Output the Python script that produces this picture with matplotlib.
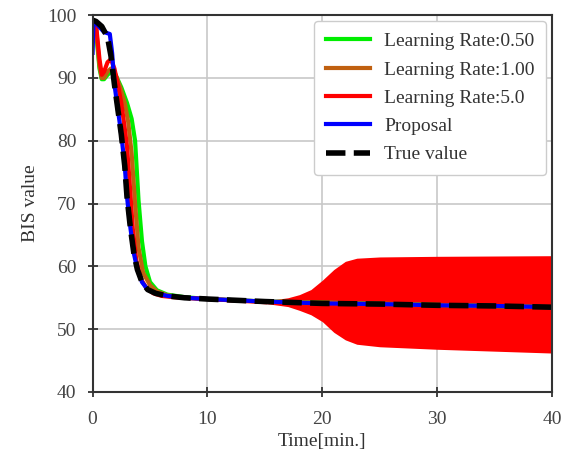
import matplotlib.pyplot as plt

# ---------- data ----------
t_green = [0, 0.3, 0.6, 0.8, 1.0, 1.3, 1.6, 2.0, 2.5, 3.0, 3.4, 3.7, 4.0, 4.3, 4.6, 5.0, 5.6, 6.5, 8, 10, 15, 40]
bis_green = [99, 97.5, 91.5, 89.8, 89.8, 90.5, 91, 90.5, 88.5, 86, 83.5, 80, 70.5, 64, 60, 57.5, 56.2, 55.5, 55.1, 54.8, 54.4, 53.5]

t_orange = [0, 0.3, 0.6, 0.8, 1.0, 1.3, 1.6, 2.0, 2.4, 2.8, 3.1, 3.4, 3.7, 4.0, 4.4, 5.0, 5.6, 6.5, 8, 10, 15, 40]
bis_orange = [99, 98, 92, 90, 90, 91, 91.5, 90.5, 88.5, 86, 83, 78, 70, 63, 59, 57, 56, 55.4, 55.0, 54.8, 54.4, 53.5]

t_red = [0, 0.3, 0.6, 0.8, 1.0, 1.3, 1.6, 1.9, 2.2, 2.5, 2.8, 3.0, 3.2, 3.5, 3.8, 4.2, 4.7, 5.3, 6, 7, 8, 10, 15]
bis_red = [99, 98.5, 93, 90.5, 91, 92.5, 93, 91.5, 89, 86, 82, 79, 74, 66, 61, 58, 56.5, 55.7, 55.3, 55.1, 55.0, 54.8, 54.3]

# oscillation envelope of the lr=5.0 run
t_band = [15, 17, 18, 19, 20, 21, 22, 23, 25, 30, 40]
band_hi = [54.5, 55.0, 55.5, 56.3, 57.8, 59.5, 60.8, 61.3, 61.5, 61.6, 61.7]
band_lo = [54.1, 53.6, 53.0, 52.3, 51.2, 49.5, 48.3, 47.6, 47.2, 46.8, 46.2]

t_prop = [0, 0.08, 0.4, 1.0, 1.5, 1.7, 1.9, 2.2, 2.5, 2.8, 3.0, 3.3, 3.6, 3.9, 4.3, 4.8, 5.5, 6.5, 8, 10, 15, 20, 25, 30, 35, 40]
bis_prop = [94, 98.8, 98.5, 97.3, 97, 94, 89, 85, 81, 76, 71, 66, 62, 59.5, 57.5, 56.3, 55.7, 55.3, 55.0, 54.8, 54.4, 54.1, 54.0, 53.8, 53.7, 53.5]

t_true = [0, 0.3, 0.8, 1.3, 1.6, 1.9, 2.2, 2.5, 2.8, 3.0, 3.3, 3.6, 3.9, 4.3, 4.8, 5.5, 6.5, 8, 10, 15, 20, 25, 30, 35, 40]
bis_true = [99.2, 99, 98.2, 96.5, 93.5, 89, 85, 81, 76, 71, 66, 62, 59.5, 57.5, 56.3, 55.7, 55.3, 55.0, 54.8, 54.4, 54.1, 54.0, 53.8, 53.7, 53.5]

plt.rcParams['font.family'] = ['Liberation Serif', 'DejaVu Serif']
plt.rcParams['font.size'] = 14

fig = plt.figure(figsize=(5.68, 4.59), dpi=100)
ax = fig.add_axes([0.163, 0.146, 0.809, 0.821])

ax.plot(t_green, bis_green, color='#00ee00', lw=3, label='Learning Rate:0.50')
ax.plot(t_orange, bis_orange, color='#c06010', lw=3, label='Learning Rate:1.00')
ax.plot(t_red, bis_red, color='red', lw=3, label='Learning Rate:5.0')
ax.fill_between(t_band, band_lo, band_hi, color='red', lw=0)
ax.plot(t_prop, bis_prop, color='blue', lw=3, label='Proposal')
ax.plot(t_true, bis_true, color='black', lw=4, dashes=(3.5, 1.5), label='True value')

ax.set_xlim(0, 40)
ax.set_ylim(40, 100)
ax.set_xticks([0, 10, 20, 30, 40])
ax.set_yticks([40, 50, 60, 70, 80, 90, 100])
ax.grid(True, color='#c8c8c8', lw=1.2)
ax.set_axisbelow(True)
for s in ax.spines.values():
    s.set_linewidth(1.5)
    s.set_color('#333333')
ax.tick_params(direction='inout', length=7, width=1.3, colors='#333333',
               labelcolor='#444444', labelsize=14)
ax.tick_params(axis='x', pad=10)
ax.tick_params(axis='y', pad=8)

ax.set_xlabel('Time[min.]', color='#333333', labelpad=4)
ax.set_ylabel('BIS value', color='#333333', labelpad=6)

leg = ax.legend(loc='upper right', handlelength=2.3, fontsize=14, framealpha=1,
                edgecolor='#cccccc', borderpad=0.6, labelspacing=0.55,
                borderaxespad=0.3, handletextpad=0.7)
for txt in leg.get_texts():
    txt.set_color('#333333')

plt.savefig('out.png', dpi=100)
